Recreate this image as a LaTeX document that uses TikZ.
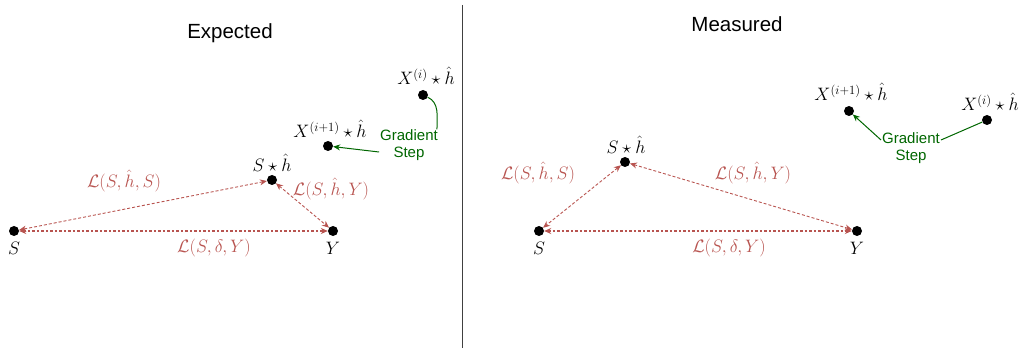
\RequirePackage{fix-cm}
\documentclass[tikz,border=0pt]{standalone}
\usepackage{amsmath,amssymb}
\usepackage{fontspec}
\setsansfont{Liberation Sans}
\definecolor{LossRed}{RGB}{184,84,80}
\definecolor{StepGreen}{RGB}{0,102,0}
\usetikzlibrary{arrows.meta}

\begin{document}
\begin{tikzpicture}[x=1pt,y=-1pt,
  dot/.style={circle,fill=black,minimum size=10pt,inner sep=0pt},
  lbl/.style={font=\fontsize{18}{20}\selectfont,inner sep=1pt},
  loss/.style={lbl,text=LossRed},
  ttl/.style={font=\sffamily\fontsize{20.5}{23}\selectfont},
  gr/.style={font=\sffamily\fontsize{15}{17}\selectfont,text=StepGreen,align=center,inner sep=1pt},
  ln/.style={draw=LossRed,line width=0.9pt,dash pattern=on 3pt off 2pt,
    {Stealth[length=7pt,width=6pt]}-{Stealth[length=7pt,width=6pt]}},
  gl/.style={draw=StepGreen,line width=1pt}]
\useasboundingbox (0,0) rectangle (1021,350);
% divider
\draw[black!75,line width=1pt] (462,5) -- (462,348);
% expected
\node[ttl] (tE) at (230,33) {Expected};
\node[dot] (sL) at (14,231) {};
\node[dot] (yL) at (333,231) {};
\node[dot] (shL) at (272,180) {};
\node[dot] (x1L) at (328,146) {};
\node[dot] (x0L) at (423,95) {};
\node[lbl] (sLt) at (14,248) {$S$};
\node[lbl] (yLt) at (333,248) {$Y$};
\node[lbl] (shLt) at (272,163) {$S\star\hat{h}$};
\node[lbl] (x1Lt) at (330,129) {$X^{(i+1)}\star\hat{h}$};
\node[lbl] (x0Lt) at (426,76) {$X^{(i)}\star\hat{h}$};
\node[gr] (gL) at (409,145) {Gradient\\Step};
\draw[ln] (shL) -- (sL);
\draw[ln] (shL) -- (yL);
\draw[ln,line width=1.2pt,dash pattern=on 2.5pt off 2pt] (sL) -- (yL);
\node[loss] (lsL) at (124,181) {$\mathcal{L}(S,\hat{h},S)$};
\node[loss] (lyL) at (331,189) {$\mathcal{L}(S,\hat{h},Y)$};
\node[loss] (ldL) at (214,248) {$\mathcal{L}(S,\delta,Y)$};
\draw[gl] (x0L) to[out=-25,in=90] ([xshift=-2pt,yshift=-1pt]gL.north east);
\draw[gl,-{Stealth[length=7pt,width=6pt]}] ([yshift=-7pt]gL.west) -- (x1L);
% measured
\node[ttl] (tM) at (737,24) {Measured};
\node[dot] (sR) at (539,231) {};
\node[dot] (yR) at (857,231) {};
\node[dot] (shR) at (625,162) {};
\node[dot] (x1R) at (849,111) {};
\node[dot] (x0R) at (987,120) {};
\node[lbl] (sRt) at (539,248) {$S$};
\node[lbl] (yRt) at (857,248) {$Y$};
\node[lbl] (shRt) at (626,145) {$S\star\hat{h}$};
\node[lbl] (x1Rt) at (851,92) {$X^{(i+1)}\star\hat{h}$};
\node[lbl] (x0Rt) at (990,102) {$X^{(i)}\star\hat{h}$};
\node[gr] (gR) at (911,148) {Gradient\\Step};
\draw[ln] (shR) -- (sR);
\draw[ln] (shR) -- (yR);
\draw[ln,line width=1.2pt,dash pattern=on 2.5pt off 2pt] (sR) -- (yR);
\node[loss] (lsR) at (538,173) {$\mathcal{L}(S,\hat{h},S)$};
\node[loss] (lyR) at (753,173) {$\mathcal{L}(S,\hat{h},Y)$};
\node[loss] (ldR) at (729,248) {$\mathcal{L}(S,\delta,Y)$};
\draw[gl] (x0R) -- ([yshift=8pt]gR.east);
\draw[gl,-{Stealth[length=7pt,width=6pt]}] ([yshift=8pt]gR.west) -- (x1R);
\end{tikzpicture}
\end{document}
